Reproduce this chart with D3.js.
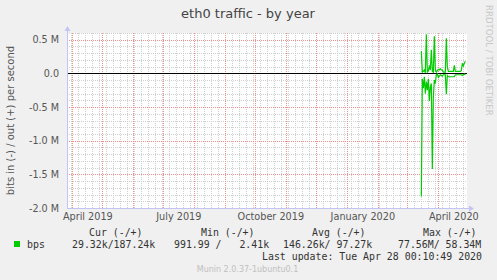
<!DOCTYPE html>
<html>
<head>
<meta charset="utf-8">
<script src="https://cdn.jsdelivr.net/npm/d3@7"></script>
<style>
  body { margin: 0; background: #f0f0f0; }
  svg { display: block; }
</style>
</head>
<body>
<div id="graph"></div>
<script>
// daily samples, values in M bits/s
var dates = ['2020-03-15','2020-03-16','2020-03-17','2020-03-18','2020-03-19','2020-03-20','2020-03-21',
  '2020-03-22','2020-03-23','2020-03-24','2020-03-25','2020-03-26','2020-03-27','2020-03-28','2020-03-29',
  '2020-03-30','2020-03-31','2020-04-01','2020-04-02','2020-04-03','2020-04-04','2020-04-05','2020-04-06',
  '2020-04-07','2020-04-08','2020-04-09','2020-04-10','2020-04-11','2020-04-12','2020-04-13','2020-04-14',
  '2020-04-15','2020-04-16','2020-04-17','2020-04-18','2020-04-19','2020-04-20','2020-04-21','2020-04-22',
  '2020-04-23','2020-04-24','2020-04-25','2020-04-26','2020-04-27','2020-04-28'];
var outValues = [0.33,0.02,0.03,0.05,0.01,0.58,0.02,0.04,0.10,0.05,0.35,0.03,0.02,0.55,0.05,
  0.02,0.04,0.06,0.05,0.07,0.05,0.05,0.02,0.02,0.02,0.52,0.10,0.03,0.03,0.03,0.03,
  0.03,0.03,0.12,0.03,0.03,0.03,0.03,0.03,0.03,0.04,0.15,0.11,0.15,0.18];
var inValues = [-1.83,-0.08,-0.22,-0.05,-0.30,-0.12,-0.25,-0.08,-0.41,-0.20,-0.15,-1.42,-0.36,-0.10,-0.15,
  -0.02,-0.01,-0.06,-0.04,-0.02,-0.03,-0.04,-0.02,-0.02,-0.02,-0.31,-0.03,-0.05,-0.05,-0.05,-0.05,
  -0.05,-0.05,-0.05,-0.02,-0.02,-0.02,-0.02,-0.02,-0.02,-0.02,-0.03,-0.02,-0.01,-0.02];
var yTicks = [0.5, 0, -0.5, -1.0, -1.5, -2.0];
var legendHeads = ['Cur (-/+)', 'Min (-/+)', 'Avg (-/+)', 'Max (-/+)'];
var legendVals = ['29.32k/187.24k', '991.99 /   2.41k', '146.26k/ 97.27k', '77.56M/ 58.34M'];

var W = 497, H = 280;
var plotLeft = 67, plotTop = 33, pw = 400, ph = 175;

var svg = d3.select('#graph').append('svg')
  .attr('width', W).attr('height', H)
  .style('font-family', 'DejaVu Sans, sans-serif');

svg.append('rect').attr('width', W).attr('height', H).attr('fill', '#f0f0f0');

var start = Date.UTC(2019, 2, 26, 16);
var end = start + 400 * 86400000;
var x = d3.scaleUtc().domain([new Date(start), new Date(end)]).range([plotLeft, plotLeft + pw]);
var y = d3.scaleLinear().domain([-2.0, 0.6]).range([plotTop + ph, plotTop]);

svg.append('rect').attr('x', plotLeft).attr('y', plotTop).attr('width', pw).attr('height', ph).attr('fill', '#ffffff');

var grid = svg.append('g').attr('shape-rendering', 'crispEdges');

// minor grid: weeks and 0.1 M
var weeks = d3.utcSunday.range(new Date(start), new Date(end));
grid.selectAll('.wk').data(weeks).enter().append('line')
  .attr('x1', function(d) { return Math.round(x(d)) + 0.5; })
  .attr('x2', function(d) { return Math.round(x(d)) + 0.5; })
  .attr('y1', plotTop).attr('y2', plotTop + ph)
  .attr('stroke', '#d0d0d0').attr('stroke-dasharray', '1,1');
var minorY = d3.range(-20, 7).map(function(d) { return d / 10; });
grid.selectAll('.hy').data(minorY).enter().append('line')
  .attr('x1', plotLeft).attr('x2', plotLeft + pw)
  .attr('y1', function(d) { return Math.round(y(d)) + 0.5; })
  .attr('y2', function(d) { return Math.round(y(d)) + 0.5; })
  .attr('stroke', '#d0d0d0').attr('stroke-dasharray', '1,1');

// major grid: months and 0.5 M
var months = d3.utcMonth.range(new Date(start), new Date(end));
grid.selectAll('.mo').data(months).enter().append('line')
  .attr('x1', function(d) { return Math.round(x(d)) + 0.5; })
  .attr('x2', function(d) { return Math.round(x(d)) + 0.5; })
  .attr('y1', plotTop).attr('y2', plotTop + ph)
  .attr('stroke', '#f09090').attr('stroke-dasharray', '1,1');
grid.selectAll('.my').data(yTicks).enter().append('line')
  .attr('x1', plotLeft).attr('x2', plotLeft + pw)
  .attr('y1', function(d) { return Math.round(y(d)) + 0.5; })
  .attr('y2', function(d) { return Math.round(y(d)) + 0.5; })
  .attr('stroke', '#f09090').attr('stroke-dasharray', '1,1');

// y axis labels
var yAxis = svg.append('g')
  .attr('transform', 'translate(' + plotLeft + ',0)')
  .call(d3.axisLeft(y).tickValues(yTicks).tickSize(0).tickPadding(8)
    .tickFormat(function(d) { return d === 0 ? '0.0' : d.toFixed(1) + ' M'; }));
yAxis.select('.domain').remove();
yAxis.selectAll('text').attr('font-family', 'DejaVu Sans, sans-serif')
  .attr('font-size', '9.6px').attr('fill', '#555');

// x axis labels, centred in the month
var labelMonths = d3.utcMonth.every(3).range(new Date(Date.UTC(2019, 3, 1)), new Date(end));
var fmt = d3.utcFormat('%B %Y');
var xAxis = svg.append('g')
  .attr('transform', 'translate(0,' + (plotTop + ph) + ')')
  .call(d3.axisBottom(x)
    .tickValues(labelMonths.map(function(d) { return d3.utcDay.offset(d, 15); }))
    .tickSize(0).tickPadding(5)
    .tickFormat(function(d) { return fmt(d3.utcMonth.floor(d)); }));
xAxis.select('.domain').remove();
xAxis.selectAll('text').attr('font-family', 'DejaVu Sans, sans-serif')
  .attr('font-size', '9.7px').attr('fill', '#555');

// zero line
svg.append('line')
  .attr('x1', plotLeft).attr('x2', plotLeft + pw)
  .attr('y1', Math.round(y(0)) + 0.5).attr('y2', Math.round(y(0)) + 0.5)
  .attr('stroke', '#000').attr('shape-rendering', 'crispEdges');

// axes with arrows
var axisColor = '#c4c4f4';
svg.append('line').attr('x1', plotLeft + 0.5).attr('x2', plotLeft + 0.5)
  .attr('y1', plotTop + ph).attr('y2', plotTop - 4).attr('stroke', axisColor);
svg.append('path').attr('d', 'M' + (plotLeft - 2.5) + ',' + (plotTop - 2) + 'L' + (plotLeft + 0.5) + ',' + (plotTop - 7) + 'L' + (plotLeft + 3.5) + ',' + (plotTop - 2) + 'Z')
  .attr('fill', axisColor);
svg.append('line').attr('x1', plotLeft).attr('x2', plotLeft + pw + 4)
  .attr('y1', plotTop + ph + 0.5).attr('y2', plotTop + ph + 0.5).attr('stroke', axisColor);
svg.append('path').attr('d', 'M' + (plotLeft + pw + 2) + ',' + (plotTop + ph - 2.5) + 'L' + (plotLeft + pw + 7) + ',' + (plotTop + ph + 0.5) + 'L' + (plotLeft + pw + 2) + ',' + (plotTop + ph + 3.5) + 'Z')
  .attr('fill', axisColor);

// data lines
var parse = d3.utcParse('%Y-%m-%d');
var pts = dates.map(function(d, i) { return { t: parse(d), o: outValues[i], n: inValues[i] }; });
var lineOut = d3.line().x(function(d) { return x(d.t); }).y(function(d) { return y(d.o); });
var lineIn = d3.line().x(function(d) { return x(d.t); }).y(function(d) { return y(d.n); });
svg.append('path').datum(pts).attr('d', lineIn)
  .attr('fill', 'none').attr('stroke', '#00cc00').attr('stroke-width', 1.2);
svg.append('path').datum(pts).attr('d', lineOut)
  .attr('fill', 'none').attr('stroke', '#00cc00').attr('stroke-width', 1.2);

// title and labels
svg.append('text').attr('x', 248).attr('y', 18).attr('text-anchor', 'middle')
  .attr('font-size', '13px').attr('fill', '#444').text('eth0 traffic - by year');
svg.append('text').attr('transform', 'translate(13.5,' + (plotTop + ph / 2) + ') rotate(-90)')
  .attr('text-anchor', 'middle').attr('font-size', '10px').attr('fill', '#555')
  .text('bits in (-) / out (+) per second');
svg.append('text').attr('transform', 'translate(486,5) rotate(90)')
  .attr('font-size', '8.6px').attr('fill', '#c8c8c8')
  .text('RRDTOOL / TOBI OETIKER');

// legend
var mono = 'DejaVu Sans Mono, monospace';
var headX = [89, 201, 312, 423];
var valX = [72, 174, 283, 398];
svg.selectAll('.lh').data(legendHeads).enter().append('text')
  .attr('x', function(d, i) { return headX[i]; }).attr('y', 236)
  .attr('font-family', mono).attr('font-size', '9.9px').attr('fill', '#333')
  .text(function(d) { return d; });
svg.append('rect').attr('x', 14).attr('y', 241).attr('width', 6).attr('height', 6).attr('fill', '#00cc00');
svg.append('text').attr('x', 27).attr('y', 247.5)
  .attr('font-family', mono).attr('font-size', '9.9px').attr('fill', '#333').text('bps');
svg.selectAll('.lv').data(legendVals).enter().append('text')
  .attr('x', function(d, i) { return valX[i]; }).attr('y', 247.5)
  .attr('font-family', mono).attr('font-size', '9.9px').attr('fill', '#333')
  .style('white-space', 'pre')
  .text(function(d) { return d; });
svg.append('text').attr('x', 262).attr('y', 259.5)
  .attr('font-family', mono).attr('font-size', '9.9px').attr('fill', '#333')
  .style('white-space', 'pre')
  .text('Last update: Tue Apr 28 00:10:49 2020');
svg.append('text').attr('x', 247.5).attr('y', 272).attr('text-anchor', 'middle')
  .attr('font-size', '8px').attr('fill', '#c0c0c0')
  .text('Munin 2.0.37-1ubuntu0.1');
</script>
</body>
</html>
